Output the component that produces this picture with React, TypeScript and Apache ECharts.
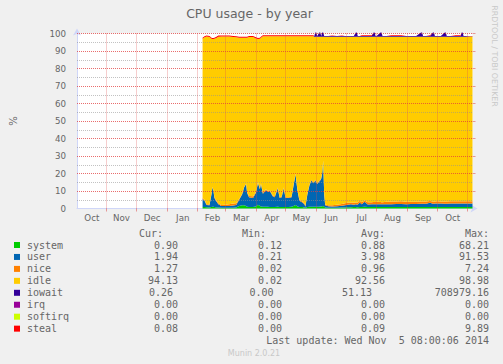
import React, { useEffect, useRef } from 'react';
import * as echarts from 'echarts';

// ---- texts ----
const titleText = 'CPU usage - by year';
const yAxisName = '%';
const sideText = 'RRDTOOL / TOBI OETIKER';
const footerText = 'Munin 2.0.21';
const lastUpdate = 'Last update: Wed Nov  5 08:00:06 2014';

// ---- x axis: day numbers counted from 2013-09-30 (day 1 .. day 401) ----
const firstDay = 1;
const lastDay = 401;
const monthStartDays = [31, 61, 92, 123, 151, 182, 212, 243, 273, 304, 335, 365, 396];
const monthLabelDays = [16, 46, 77, 108, 138, 167, 198, 228, 258, 289, 320, 351, 381];
const monthLabels = ['Oct', 'Nov', 'Dec', 'Jan', 'Feb', 'Mar', 'Apr', 'May', 'Jun', 'Jul', 'Aug', 'Sep', 'Oct'];

// ---- y grid lines ----
const majorYTicks = [10, 20, 30, 40, 50, 60, 70, 80, 90, 100];
const minorYTicks = [5, 15, 25, 35, 45, 55, 65, 75, 85, 95];

// ---- sampled days ----
const days = [
  128, 130, 132, 135, 137, 138, 139, 140, 142, 144,
  147, 151, 155, 159, 162, 165, 168, 170, 172, 173,
  175, 179, 182, 184, 186, 187, 189, 192, 194, 196,
  199, 201, 204, 206, 208, 210, 212, 215, 218, 220,
  222, 224, 226, 229, 231, 232, 234, 236, 238, 240,
  241, 242, 243, 244, 246, 247, 248, 249, 250, 251,
  252, 255, 259, 264, 269, 272, 275, 278, 281, 283,
  284, 285, 287, 289, 292, 295, 299, 301, 302, 303,
  304, 308, 309, 310, 314, 319, 324, 329, 334, 339,
  344, 349, 350, 351, 354, 358, 361, 362, 363, 365,
  369, 373, 374, 375, 379, 384, 389, 390, 391, 392,
  394, 399, 401,
];

const system = [
  0.8, 0.8, 0.7, 0.6, 0.8, 1.0, 1.0, 0.8, 0.6, 0.6,
  0.5, 0.5, 0.5, 0.5, 0.6, 1.5, 1.8, 1.8, 1.5, 1.0,
  0.8, 0.8, 1.2, 2.2, 1.5, 1.2, 1.0, 1.0, 1.0, 0.8,
  0.8, 0.8, 1.0, 0.8, 0.8, 0.9, 0.8, 0.8, 1.0, 1.5,
  2.0, 1.2, 0.8, 0.8, 0.6, 0.5, 0.8, 1.0, 1.0, 1.0,
  1.0, 1.0, 1.0, 1.0, 1.0, 1.1, 1.2, 1.3, 1.5, 1.0,
  0.6, 0.5, 0.5, 0.5, 0.6, 0.6, 0.7, 0.7, 0.8, 0.8,
  0.7, 0.7, 0.8, 0.8, 1.0, 0.8, 0.8, 0.8, 0.8, 0.8,
  0.8, 0.8, 0.8, 0.8, 0.8, 0.8, 0.8, 0.9, 0.9, 0.9,
  0.9, 0.9, 0.9, 0.9, 0.9, 0.9, 0.9, 0.9, 0.9, 0.9,
  0.9, 0.9, 0.9, 0.9, 0.9, 0.9, 0.9, 0.9, 0.9, 0.9,
  0.9, 0.9, 0.9,
];

const user = [
  4.7, 3.7, 1.3, 1.2, 7.2, 11.0, 9.0, 5.2, 3.4, 1.9,
  1.0, 1.0, 1.0, 1.2, 1.4, 3.5, 6.2, 10.2, 12.5, 8.0,
  5.7, 5.2, 7.8, 12.3, 9.5, 12.8, 7.5, 9.5, 8.5, 9.2,
  6.2, 5.7, 10.5, 5.2, 5.7, 10.6, 5.2, 5.2, 5.5, 11.5,
  17.5, 8.8, 3.7, 2.7, 1.9, 0.5, 7.2, 12.0, 15.0, 13.5,
  14.0, 15.0, 14.0, 13.0, 14.5, 14.9, 15.8, 18.7, 25.5, 7.0,
  1.2, 0.8, 0.7, 0.8, 1.0, 1.2, 1.5, 1.7, 1.4, 1.6,
  1.6, 1.6, 2.7, 1.7, 2.8, 1.5, 1.6, 1.6, 1.7, 1.7,
  1.7, 1.6, 1.6, 1.6, 1.7, 1.7, 1.8, 1.7, 1.6, 1.7,
  1.7, 1.8, 1.8, 1.8, 1.8, 2.4, 1.8, 1.8, 1.9, 1.9,
  1.9, 1.8, 1.8, 1.8, 1.9, 1.9, 1.9, 1.9, 1.9, 1.9,
  1.9, 1.94, 1.94,
];

const nice = [
  0.5, 0.5, 0.5, 0.5, 0.5, 0.5, 0.5, 0.5, 0.5, 0.5,
  0.5, 0.7, 1.0, 1.1, 1.0, 0.5, 0.5, 0.3, 0.3, 0.5,
  0.7, 1.0, 0.5, 0.5, 0.5, 0.3, 0.5, 0.5, 0.5, 0.5,
  0.5, 0.5, 0.5, 0.5, 0.5, 0.5, 0.5, 0.5, 0.5, 0.5,
  0.5, 0.5, 0.5, 0.5, 0.5, 0.5, 0.5, 0.5, 0.5, 0.5,
  0.5, 0.5, 0.5, 0.5, 0.5, 0.5, 0.5, 0.5, 0.5, 0.5,
  0.5, 0.5, 0.6, 0.9, 1.0, 1.2, 1.1, 1.1, 1.1, 1.0,
  1.1, 1.1, 1.0, 1.1, 0.8, 1.3, 1.2, 1.3, 1.2, 1.2,
  1.3, 1.3, 1.2, 1.2, 1.4, 1.5, 1.4, 1.5, 1.3, 1.3,
  1.3, 1.3, 1.3, 1.3, 1.3, 1.0, 1.3, 1.3, 1.2, 1.3,
  1.2, 1.3, 1.3, 1.3, 1.3, 1.3, 1.3, 1.3, 1.3, 1.3,
  1.3, 1.27, 1.27,
];

const idle = [
  91.0, 92.8, 95.8, 95.7, 88.5, 84.3, 86.3, 90.5, 93.0, 95.2,
  96.3, 96.1, 95.8, 95.2, 94.8, 92.1, 89.1, 85.3, 83.3, 88.1,
  90.8, 91.0, 87.7, 81.8, 85.5, 83.3, 89.4, 87.4, 88.4, 87.9,
  90.9, 91.4, 86.4, 91.9, 91.4, 86.4, 91.9, 91.9, 91.4, 84.9,
  78.4, 87.9, 93.4, 94.4, 95.4, 96.9, 89.9, 84.9, 81.9, 83.4,
  82.6, 81.6, 82.6, 83.6, 82.1, 81.6, 80.6, 77.6, 70.6, 89.6,
  95.8, 96.3, 96.3, 95.9, 95.5, 95.1, 94.8, 94.6, 94.8, 94.7,
  94.7, 94.7, 93.6, 94.5, 93.5, 94.5, 94.5, 94.4, 94.4, 94.4,
  94.3, 94.4, 94.5, 94.5, 94.2, 94.1, 94.1, 94.0, 94.3, 94.2,
  94.2, 94.1, 94.1, 94.1, 94.1, 93.8, 94.1, 94.1, 94.1, 94.0,
  94.1, 94.1, 94.1, 94.1, 94.0, 94.0, 94.0, 94.0, 94.0, 94.0,
  94.0, 94.13, 94.13,
];

const iowait = [
  0, 0, 0, 0, 0, 0, 0, 0, 0, 0,
  0, 0, 0, 0, 0, 0, 0, 0, 0, 0,
  0, 0, 0, 0, 0, 0, 0, 0, 0, 0,
  0, 0, 0, 0, 0, 0, 0, 0, 0, 0,
  0, 0, 0, 0, 0, 0, 0, 0, 0, 0,
  0.5, 2.5, 2.5, 0.5, 2.5, 2.5, 0.5, 2.5, 2.5, 0.5,
  0.5, 0.5, 0.5, 0.5, 0.5, 0.5, 0.5, 0.5, 0.5, 2.5,
  2.5, 0.5, 0.5, 0.5, 0.5, 0.5, 0.5, 2.5, 2.5, 0.5,
  0.5, 2.5, 2.5, 0.5, 0.5, 0.5, 0.5, 0.5, 0.5, 0.5,
  0.5, 2.5, 2.5, 0.5, 0.5, 0.5, 2.5, 2.5, 0.5, 0.5,
  0.5, 2.5, 2.5, 0.5, 0.5, 0.5, 0.5, 2.5, 2.5, 0.5,
  0.5, 0.26, 0.26,
];

const steal = [
  0.6, 0.6, 0.6, 0.6, 0.6, 0.6, 0.6, 0.6, 0.6, 0.6,
  0.6, 0.6, 0.6, 0.6, 0.6, 0.6, 0.6, 0.6, 0.6, 0.6,
  0.6, 0.6, 0.6, 0.6, 0.6, 0.6, 0.6, 0.6, 0.6, 0.6,
  0.6, 0.6, 0.6, 0.6, 0.6, 0.6, 0.6, 0.6, 0.6, 0.6,
  0.6, 0.6, 0.6, 0.6, 0.6, 0.6, 0.6, 0.6, 0.6, 0.6,
  0, 0, 0, 0, 0, 0, 0, 0, 0, 0,
  0, 0, 0.3, 0, 0.3, 0, 0, 0, 0, 0,
  0, 0, 0, 0.4, 0.4, 0.4, 0.4, 0, 0, 0,
  0, 0, 0, 0, 0, 0.4, 0.4, 0.4, 0, 0,
  0, 0, 0, 0, 0, 0.4, 0, 0, 0, 0,
  0, 0, 0, 0, 0, 0.4, 0.4, 0, 0, 0,
  0, 0.08, 0.08,
];

// ---- legend table ----
const legendNames = ['system', 'user', 'nice', 'idle', 'iowait', 'irq', 'softirq', 'steal'];
const legendColors = ['#00CC00', '#0066B3', '#FF8000', '#FFCC00', '#330099', '#990099', '#CCFF00', '#FF0000'];
const curValues = [0.9, 1.94, 1.27, 94.13, 0.26, 0.0, 0.0, 0.08];
const minValues = [0.12, 0.21, 0.02, 0.02, 0.0, 0.0, 0.0, 0.0];
const avgValues = [0.88, 3.98, 0.96, 92.56, 51.13, 0.0, 0.0, 0.09];
const maxValues = [68.21, 91.53, 7.24, 98.98, 708979.16, 0.0, 0.0, 9.89];
const columnHeaders = ['Cur:', 'Min:', 'Avg:', 'Max:'];

const stackedSeries = [
  { name: 'system', values: system },
  { name: 'user', values: user },
  { name: 'nice', values: nice },
  { name: 'idle', values: idle },
  { name: 'iowait', values: iowait },
  { name: 'steal', values: steal },
];

export default function App() {
  const ref = useRef<HTMLDivElement>(null);

  useEffect(() => {
    const chart = echarts.init(ref.current as HTMLDivElement, null, { renderer: 'svg' });
    const sans = '"DejaVu Sans", sans-serif';
    const mono = '"DejaVu Sans Mono", monospace';
    const fontColor = '#666666';
    const majorGridH = 'rgba(226,60,60,0.75)';
    const majorGridV = 'rgba(222,79,79,0.55)';
    const minorGrid = 'rgba(143,143,143,0.55)';
    const axisColor = '#CFD6F8';

    // category scaffold: one slot per day of the axis range
    const dayCategories: string[] = [];
    for (let d = firstDay; d <= lastDay; d++) dayCategories.push(String(d));

    const majorStyleH = { color: majorGridH, type: [1, 1], width: 1 };
    const majorStyleV = { color: majorGridV, type: [1, 1], width: 1 };
    const minorStyle = { color: minorGrid, type: [1, 1], width: 1 };
    const gridLines: any[] = [
      ...minorYTicks.map((v) => ({ yAxis: v, lineStyle: minorStyle })),
      ...majorYTicks.map((v) => ({ yAxis: v, lineStyle: majorStyleH })),
      ...monthStartDays.map((d) => ({ xAxis: String(d), lineStyle: majorStyleV })),
    ];

    const series: any[] = stackedSeries.map((s, k) => {
      const color = legendColors[legendNames.indexOf(s.name)];
      const item: any = {
        name: s.name,
        type: 'line',
        stack: 'cpu',
        symbol: 'none',
        showSymbol: false,
        clip: false,
        silent: true,
        lineStyle: { width: 0 },
        itemStyle: { color },
        areaStyle: { color, opacity: 1 },
        data: days.map((d, i) => [String(d), s.values[i]]),
      };
      if (k === stackedSeries.length - 1) {
        item.markLine = {
          silent: true,
          z: 5,
          symbol: ['none', 'none'],
          label: { show: false },
          emphasis: { disabled: true },
          lineStyle: majorStyleH,
          data: gridLines,
        };
      }
      return item;
    });

    const headerY = 233.5;
    const rowY0 = 245;
    const rowStep = 11.95;
    const colRight = [178, 282, 385, 489];
    const headerRight = [163, 266, 385, 489];
    const iowaitShift = [-5, -8.5, -13, 0];

    const graphics: any[] = [];
    graphics.push({
      type: 'text', x: 249.5, y: 13.5, silent: true,
      style: { text: titleText, fill: fontColor, fontSize: 12.5, fontFamily: sans, align: 'center', verticalAlign: 'middle' },
    });
    graphics.push({
      type: 'text', x: 494, y: 56, rotation: -Math.PI / 2, silent: true,
      style: { text: sideText, fill: '#c8c8c8', fontSize: 7.9, fontFamily: sans, align: 'center', verticalAlign: 'middle' },
    });
    columnHeaders.forEach((h, c) => {
      graphics.push({
        type: 'text', x: headerRight[c], y: headerY, silent: true,
        style: { text: h, fill: fontColor, fontSize: 10, fontFamily: mono, align: 'right', verticalAlign: 'middle' },
      });
    });
    legendNames.forEach((name, r) => {
      const y = rowY0 + r * rowStep;
      graphics.push({
        type: 'rect', silent: true,
        shape: { x: 14, y: y - 3, width: 6, height: 6 },
        style: { fill: legendColors[r] },
      });
      graphics.push({
        type: 'text', x: 27, y, silent: true,
        style: { text: name, fill: fontColor, fontSize: 10, fontFamily: mono, align: 'left', verticalAlign: 'middle' },
      });
      const vals = [curValues[r], minValues[r], avgValues[r], maxValues[r]];
      vals.forEach((v, c) => {
        const shift = name === 'iowait' ? iowaitShift[c] : 0;
        graphics.push({
          type: 'text', x: colRight[c] + shift, y, silent: true,
          style: { text: v.toFixed(2), fill: fontColor, fontSize: 10, fontFamily: mono, align: 'right', verticalAlign: 'middle' },
        });
      });
    });
    graphics.push({
      type: 'text', x: 489, y: 340.5, silent: true,
      style: { text: lastUpdate, fill: fontColor, fontSize: 10, fontFamily: mono, align: 'right', verticalAlign: 'middle' },
    });
    graphics.push({
      type: 'text', x: 254, y: 353.5, silent: true,
      style: { text: footerText, fill: '#c8c8c8', fontSize: 8, fontFamily: sans, align: 'center', verticalAlign: 'middle' },
    });

    const isMonthStart = (_i: number, v: string) => monthStartDays.indexOf(Number(v)) >= 0;
    const isLabelDay = (_i: number, v: string) => monthLabelDays.indexOf(Number(v)) >= 0;

    chart.setOption({
      animation: false,
      backgroundColor: '#F0F0F0',
      grid: { left: 72.5, right: 30.5, top: 33.5, bottom: 155.5, show: true, backgroundColor: '#FFFFFF', borderWidth: 0 },
      xAxis: {
        type: 'category',
        data: dayCategories,
        boundaryGap: false,
        axisLine: {
          show: true,
          lineStyle: { color: axisColor, width: 1 },
          symbol: ['none', 'arrow'],
          symbolSize: [6, 7],
          symbolOffset: [0, 5],
        },
        axisTick: {
          show: true,
          interval: isMonthStart,
          length: 3,
          lineStyle: { color: majorGridV },
        },
        axisLabel: {
          show: true,
          interval: isLabelDay,
          formatter: (v: string) => {
            const i = monthLabelDays.indexOf(Number(v));
            return i >= 0 ? monthLabels[i] : '';
          },
          color: fontColor,
          fontSize: 8.7,
          fontFamily: sans,
          margin: 5,
        },
        splitLine: { show: false },
      },
      yAxis: [
        {
          type: 'value',
          min: 0,
          max: 100,
          interval: 10,
          name: yAxisName,
          nameLocation: 'middle',
          nameGap: 59,
          nameRotate: 90,
          nameTextStyle: { color: fontColor, fontSize: 10, fontFamily: sans },
          axisLine: {
            show: true,
            lineStyle: { color: axisColor, width: 1 },
            symbol: ['none', 'arrow'],
            symbolSize: [6, 7],
            symbolOffset: [0, 5],
          },
          axisTick: { show: false },
          axisLabel: { color: fontColor, fontSize: 8.7, fontFamily: sans, margin: 11 },
          splitLine: { show: false },
        },
        {
          type: 'value',
          position: 'right',
          min: 0,
          max: 100,
          interval: 10,
          axisLine: { show: false },
          axisTick: { show: true, length: 3, lineStyle: { color: majorGridV } },
          axisLabel: { show: false },
          splitLine: { show: false },
        },
      ],
      series,
      graphic: graphics,
    });

    return () => chart.dispose();
  }, []);

  return <div ref={ref} style={{ position: 'fixed', left: 0, top: 0, width: 503, height: 364 }} />;
}
